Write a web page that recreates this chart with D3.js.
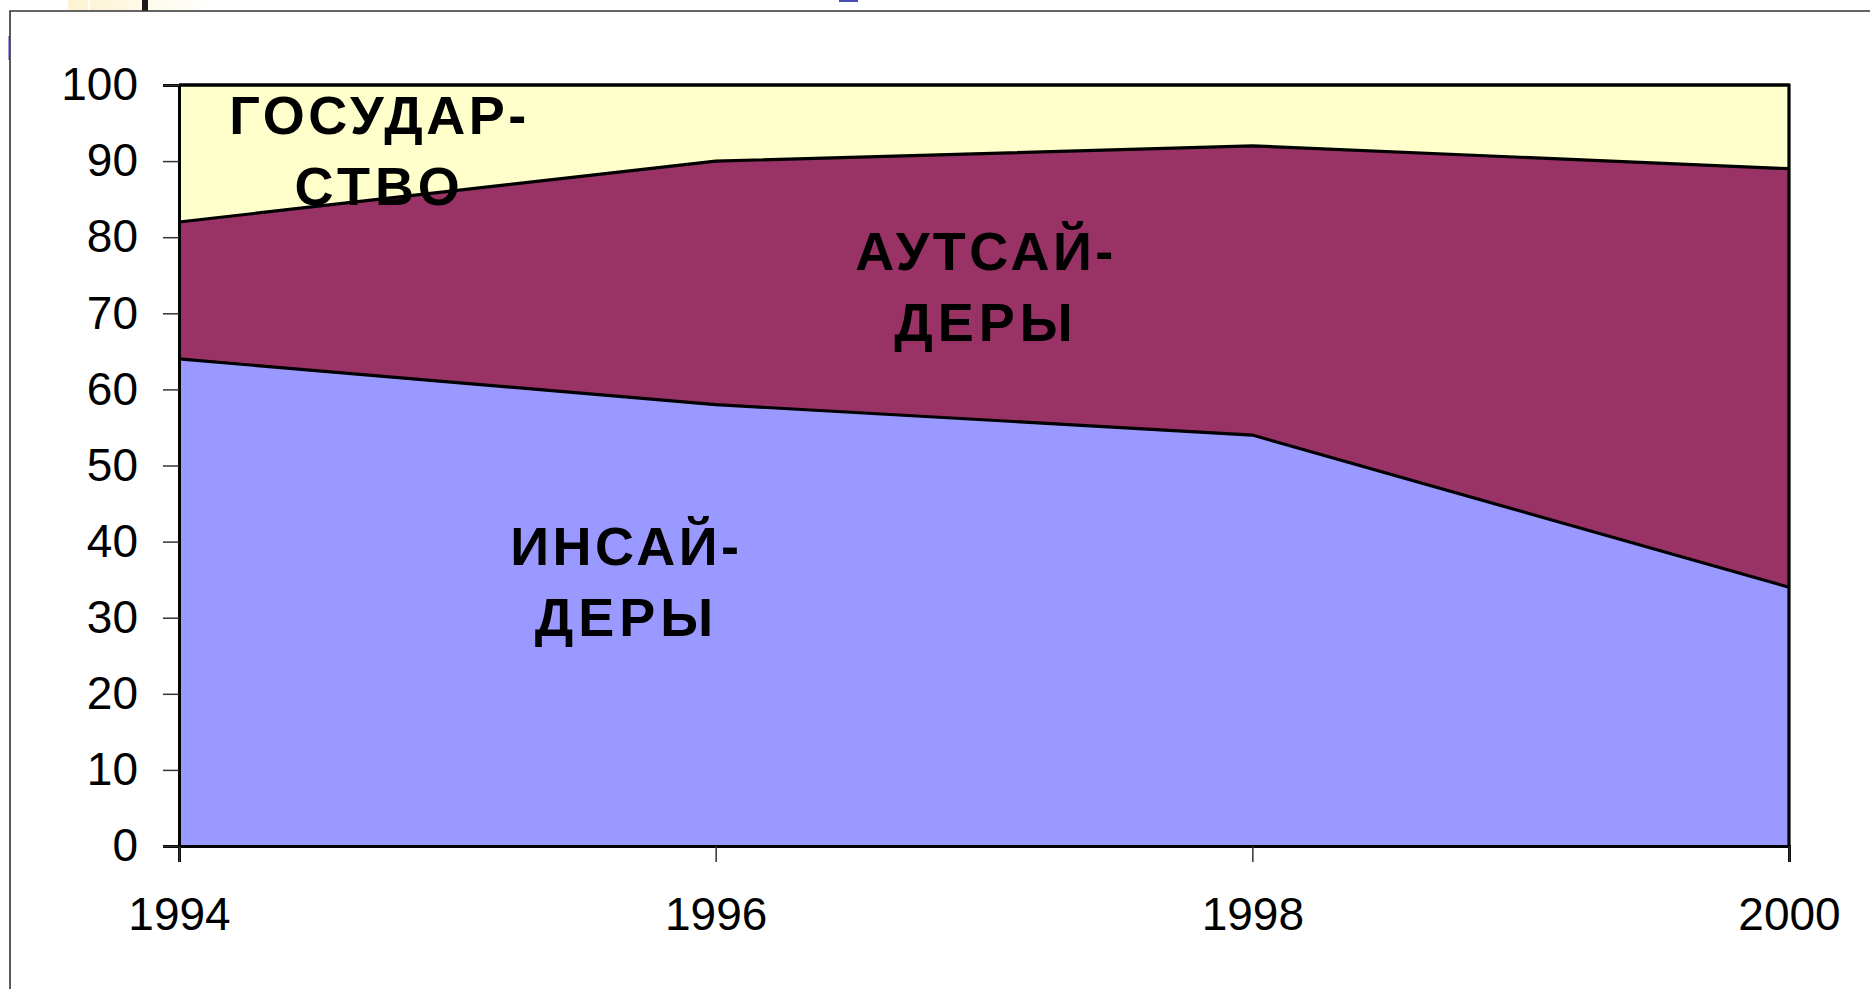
<!DOCTYPE html>
<html>
<head>
<meta charset="utf-8">
<script src="https://cdn.jsdelivr.net/npm/d3@7"></script>
<style>
  html, body { margin: 0; padding: 0; background: #fff; }
  svg { display: block; font-family: "Liberation Sans", Arial, sans-serif; }
</style>
</head>
<body>
<div id="chart"></div>
<script>
// 数据
const years = [1994, 1996, 1998, 2000];
const insiders = [64, 58, 54, 34];
const outsiders = [18, 32, 38, 55];
const state = [18, 10, 8, 11];
const yTicks = [0, 10, 20, 30, 40, 50, 60, 70, 80, 90, 100];

const seriesKeys = ['insiders', 'outsiders', 'state'];
const seriesColors = { insiders: '#9999ff', outsiders: '#993366', state: '#ffffcc' };
const seriesLabels = {
  insiders: ['ИНСАЙ-', 'ДЕРЫ'],
  outsiders: ['АУТСАЙ-', 'ДЕРЫ'],
  state: ['ГОСУДАР-', 'СТВО']
};
// 标签锚点（数据坐标）
const labelAnchors = {
  insiders: [1995.66, 36.9],
  outsiders: [1997.0, 75.7],
  state: [1994.74, 93.6]
};

const width = 1870, height = 989;
const margin = { top: 85, right: 81, bottom: 143, left: 179 };
const innerWidth = width - margin.left - margin.right;
const innerHeight = height - margin.top - margin.bottom;

const table = years.map((y, i) => ({
  year: y, insiders: insiders[i], outsiders: outsiders[i], state: state[i]
}));

const svg = d3.select('#chart').append('svg')
  .attr('width', width)
  .attr('height', height);

// 幻灯片边框残留
svg.append('defs').append('linearGradient')
  .attr('id', 'topfade')
  .call(g => {
    g.append('stop').attr('offset', '0%').attr('stop-color', '#fdf3d0');
    g.append('stop').attr('offset', '100%').attr('stop-color', '#ffffff');
  });
svg.append('rect').attr('x', 68).attr('y', 0).attr('width', 145).attr('height', 10).attr('fill', 'url(#topfade)');
svg.append('rect').attr('x', 88).attr('y', 0).attr('width', 2).attr('height', 11).attr('fill', '#fff');
svg.append('rect').attr('x', 142).attr('y', 0).attr('width', 6).attr('height', 11).attr('fill', '#1a1a1a');
svg.append('rect').attr('x', 839).attr('y', 0).attr('width', 19).attr('height', 2).attr('fill', '#4b4bb8');
svg.append('rect').attr('x', 8).attr('y', 36).attr('width', 2).attr('height', 24).attr('fill', '#9a9ae6');
svg.append('path')
  .attr('d', `M10,${height} V11 H${width}`)
  .attr('fill', 'none')
  .attr('stroke', '#333')
  .attr('stroke-width', 1.6);

const g = svg.append('g')
  .attr('transform', `translate(${margin.left},${margin.top})`);

const x = d3.scaleLinear().domain(d3.extent(years)).range([0, innerWidth]);
const y = d3.scaleLinear().domain([0, 100]).range([innerHeight, 0]);

const stacked = d3.stack().keys(seriesKeys)(table);

const area = d3.area()
  .x(d => x(d.data.year))
  .y0(d => y(d[0]))
  .y1(d => y(d[1]));

g.selectAll('.layer')
  .data(stacked)
  .enter()
  .append('path')
  .attr('class', 'layer')
  .attr('fill', d => seriesColors[d.key])
  .attr('d', area);

// 系列边界线
const line = d3.line()
  .x(d => x(d.data.year))
  .y(d => y(d[1]));

g.selectAll('.edge')
  .data(stacked)
  .enter()
  .append('path')
  .attr('class', 'edge')
  .attr('fill', 'none')
  .attr('stroke', '#000')
  .attr('stroke-width', 3.2)
  .attr('d', line);

// 绘图区边框（上、右）
g.append('path')
  .attr('d', `M0,${y(100)} H${x(2000)} V${y(0)}`)
  .attr('fill', 'none')
  .attr('stroke', '#000')
  .attr('stroke-width', 3.2);

// Y 轴
const yAxis = g.append('g')
  .call(d3.axisLeft(y).tickValues(yTicks).tickSize(16).tickPadding(25));
yAxis.select('.domain').attr('stroke', '#000').attr('stroke-width', 3);
yAxis.selectAll('.tick line').attr('stroke', '#333').attr('stroke-width', 1.5);
yAxis.selectAll('text')
  .style('font-size', '46px')
  .style('font-family', '"Liberation Sans", Arial, sans-serif')
  .attr('fill', '#000');

// X 轴
const xAxis = g.append('g')
  .attr('transform', `translate(0,${innerHeight})`)
  .call(d3.axisBottom(x).tickValues(years).tickFormat(d3.format('d')).tickSize(16).tickPadding(35));
xAxis.select('.domain').attr('stroke', '#000').attr('stroke-width', 3);
xAxis.selectAll('.tick line').attr('stroke', '#333').attr('stroke-width', 1.5);
xAxis.selectAll('text')
  .style('font-size', '46px')
  .style('font-family', '"Liberation Sans", Arial, sans-serif')
  .attr('fill', '#000');

// 系列标签
seriesKeys.forEach(k => {
  const [ax, ay] = labelAnchors[k];
  seriesLabels[k].forEach((s, i) => {
    g.append('text')
      .attr('x', x(ax) + 2)
      .attr('y', y(ay) + i * 71)
      .attr('text-anchor', 'middle')
      .style('font-size', '54px')
      .style('font-weight', 'bold')
      .style('letter-spacing', i === 0 ? '3.5px' : '5px')
      .attr('fill', '#000')
      .text(s);
  });
});
</script>
</body>
</html>
